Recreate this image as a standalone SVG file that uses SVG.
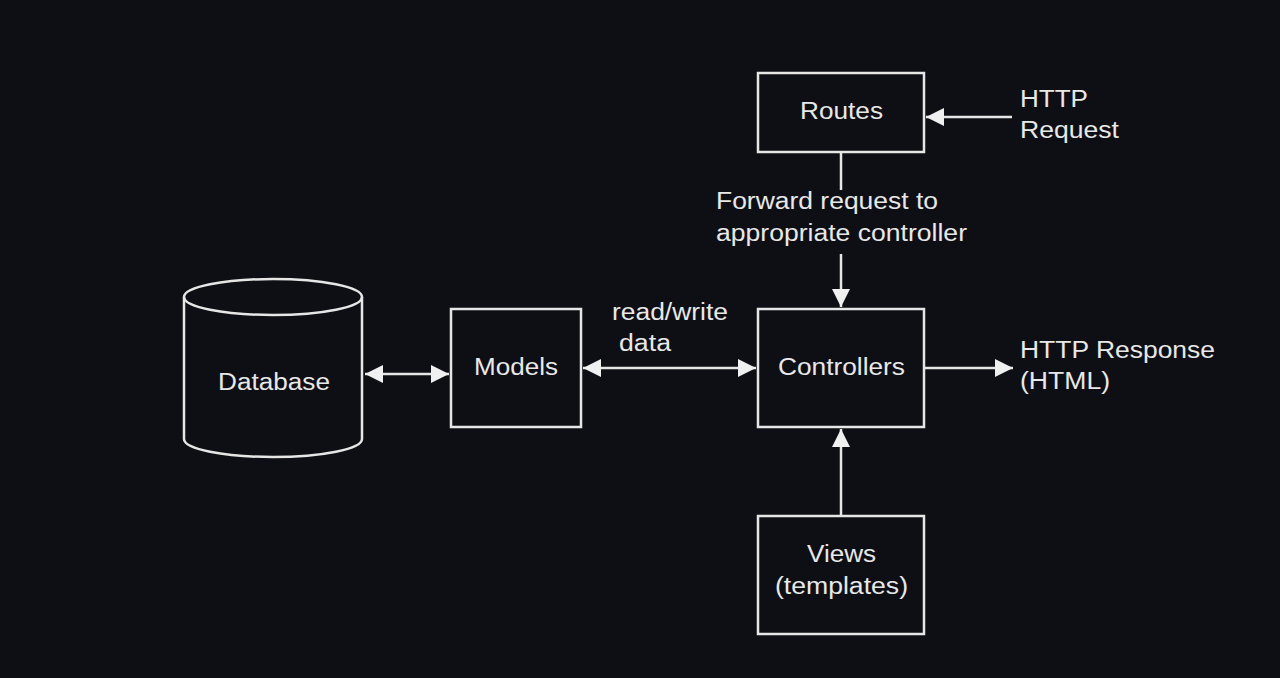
<svg xmlns="http://www.w3.org/2000/svg" width="1280" height="678" viewBox="0 0 1280 678">
<defs>
<style>
.box{fill:none;stroke:#e6e6e6;stroke-width:2.5}
.ln{fill:none;stroke:#e6e6e6;stroke-width:2.5}
text{font-family:"Liberation Sans",Arial,sans-serif;font-size:23.5px;fill:#e8e8e8}
.c{text-anchor:middle}
</style>
<marker id="ah" viewBox="0 0 10 10" refX="10" refY="5" markerWidth="22" markerHeight="18" markerUnits="userSpaceOnUse" orient="auto-start-reverse">
<path d="M0,0 L10,5 L0,10 Z" fill="#f0f0f0"/>
</marker>
</defs>
<rect width="1280" height="678" fill="#0d0f14"/>
<g id="connectors">
<line class="ln" x1="1012" y1="117" x2="926" y2="117" marker-end="url(#ah)"/>
<line class="ln" x1="841" y1="152" x2="841" y2="190"/>
<line class="ln" x1="841" y1="254" x2="841" y2="307" marker-end="url(#ah)"/>
<line class="ln" x1="365" y1="374" x2="449" y2="374" marker-start="url(#ah)" marker-end="url(#ah)"/>
<line class="ln" x1="583" y1="368" x2="756" y2="368" marker-start="url(#ah)" marker-end="url(#ah)"/>
<line class="ln" x1="924" y1="368" x2="1013" y2="368" marker-end="url(#ah)"/>
<line class="ln" x1="841" y1="516" x2="841" y2="429" marker-end="url(#ah)"/>
<text x="716" y="209" textLength="222" lengthAdjust="spacingAndGlyphs">Forward request to</text>
<text x="716" y="241" textLength="251" lengthAdjust="spacingAndGlyphs">appropriate controller</text>
<text x="612" y="320" textLength="116" lengthAdjust="spacingAndGlyphs">read/write</text>
<text x="619" y="351" textLength="52" lengthAdjust="spacingAndGlyphs">data</text>
</g>
<g id="routes">
<rect class="box" x="758" y="73" width="166" height="79"/>
<text x="800" y="119" textLength="83" lengthAdjust="spacingAndGlyphs">Routes</text>
</g>
<g id="http-request">
<text x="1020" y="107" textLength="68" lengthAdjust="spacingAndGlyphs">HTTP</text>
<text x="1020" y="138" textLength="99" lengthAdjust="spacingAndGlyphs">Request</text>
</g>
<g id="database">
<path class="box" d="M184,297 L184,439 A89,18 0 0 0 362,439 L362,297"/>
<ellipse class="box" cx="273" cy="297" rx="89" ry="18"/>
<text x="218" y="390" textLength="112" lengthAdjust="spacingAndGlyphs">Database</text>
</g>
<g id="models">
<rect class="box" x="451" y="309" width="130" height="118"/>
<text x="474" y="375" textLength="84" lengthAdjust="spacingAndGlyphs">Models</text>
</g>
<g id="controllers">
<rect class="box" x="758" y="309" width="166" height="118"/>
<text x="778" y="375" textLength="127" lengthAdjust="spacingAndGlyphs">Controllers</text>
</g>
<g id="http-response">
<text x="1020" y="358" textLength="195" lengthAdjust="spacingAndGlyphs">HTTP Response</text>
<text x="1020" y="389" textLength="90" lengthAdjust="spacingAndGlyphs">(HTML)</text>
</g>
<g id="views">
<rect class="box" x="758" y="516" width="166" height="118"/>
<text x="807" y="562" textLength="69" lengthAdjust="spacingAndGlyphs">Views</text>
<text x="775" y="594" textLength="133" lengthAdjust="spacingAndGlyphs">(templates)</text>
</g>
</svg>
